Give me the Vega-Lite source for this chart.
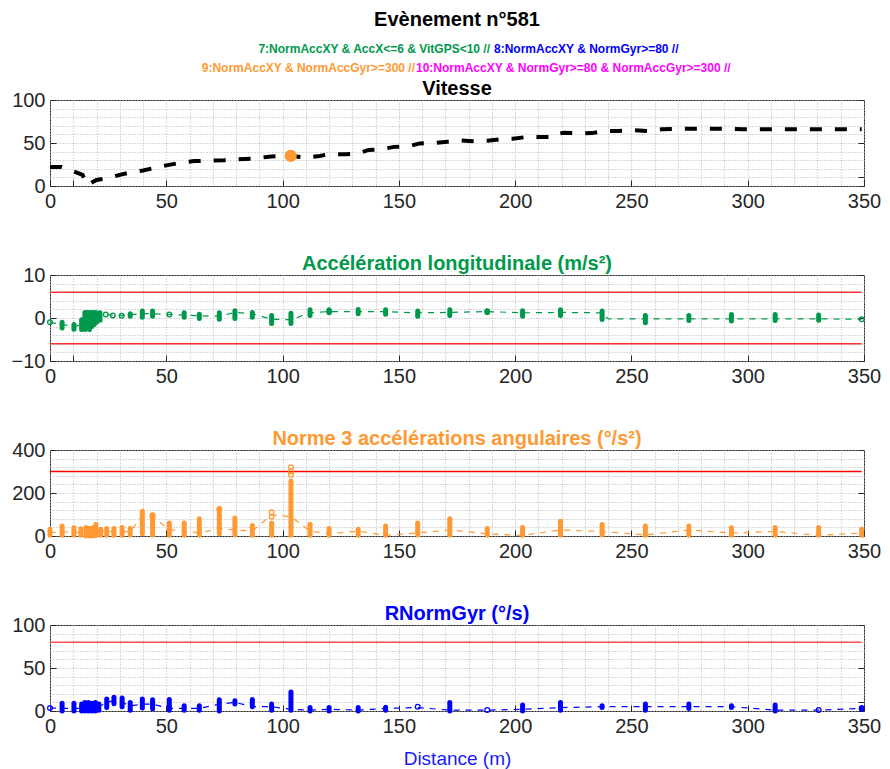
{
  "$schema": "https://vega.github.io/schema/vega-lite/v6.json",
  "background": "white",
  "padding": {"top": 10, "left": 10, "right": 4, "bottom": 0},
  "config": {
    "font": "Liberation Sans",
    "view": {"stroke": "#262626", "strokeWidth": 1},
    "axis": {
      "labelFont": "Liberation Sans", "labelColor": "#262626", "labelFontSize": 20,
      "domain": false, "tickColor": "#262626", "tickSize": -6, "labelPadding": 11,
      "tickOpacity": {"condition": {"test": "datum.value % 50 === 0 || datum.value === -10 || datum.value === 10", "value": 1}, "value": 0},
      "gridColor": "#b4b4b4", "gridDash": [1, 2], "gridWidth": 1,
      "labelOverlap": false, "labelFlush": false, "titleFont": "Liberation Sans"
    },
    "title": {"font": "Liberation Sans", "fontWeight": "bold", "fontSize": 20, "offset": -9}
  },
  "datasets": {
    "vit": [
      {"x": 0, "v": 22}, {"x": 5, "v": 22}, {"x": 10, "v": 17}, {"x": 14, "v": 13}, {"x": 16, "v": 1}, {"x": 20, "v": 7}, {"x": 25, "v": 9},
      {"x": 30, "v": 13}, {"x": 35, "v": 16}, {"x": 40, "v": 18}, {"x": 45, "v": 21}, {"x": 50, "v": 24}, {"x": 56, "v": 27}, {"x": 62, "v": 29},
      {"x": 69, "v": 29.5}, {"x": 75, "v": 30}, {"x": 80, "v": 31}, {"x": 88, "v": 32}, {"x": 94, "v": 34}, {"x": 99, "v": 35}, {"x": 104, "v": 35},
      {"x": 110, "v": 33}, {"x": 116, "v": 35}, {"x": 120, "v": 37}, {"x": 127, "v": 37}, {"x": 132, "v": 37.5}, {"x": 137, "v": 42}, {"x": 142, "v": 42.5},
      {"x": 148, "v": 45.5}, {"x": 154, "v": 46}, {"x": 159, "v": 49.5}, {"x": 165, "v": 50}, {"x": 171, "v": 51.5}, {"x": 176, "v": 53}, {"x": 183, "v": 52},
      {"x": 188, "v": 52.5}, {"x": 194, "v": 54.5}, {"x": 199, "v": 55}, {"x": 205, "v": 57}, {"x": 217, "v": 57}, {"x": 219, "v": 61}, {"x": 221, "v": 62},
      {"x": 228, "v": 61}, {"x": 233, "v": 61.5}, {"x": 239, "v": 64}, {"x": 244, "v": 64}, {"x": 251, "v": 65}, {"x": 257, "v": 64}, {"x": 263, "v": 66},
      {"x": 274, "v": 66.6}, {"x": 292, "v": 66.5}, {"x": 298, "v": 66}, {"x": 349, "v": 66}
    ],
    "vit_evt": [{"x": 103.5, "v": 35}],
    "acc_cl": [
      {"x": 5.2, "lo": -2.3, "hi": -1}, {"x": 10.3, "lo": -2.6, "hi": -1.5}, {"x": 13.6, "lo": -2.7, "hi": -0.4}, {"x": 15, "lo": -2.7, "hi": 1.3},
      {"x": 16, "lo": -2.5, "hi": 1.3}, {"x": 17, "lo": -2.7, "hi": 1.3}, {"x": 18, "lo": -2, "hi": 1.3}, {"x": 19, "lo": -1.5, "hi": 1.3},
      {"x": 20, "lo": -1, "hi": 1.2}, {"x": 21.5, "lo": -0.5, "hi": 1.2}, {"x": 34.5, "lo": 0.4, "hi": 1.0}, {"x": 39.7, "lo": 0.2, "hi": 1.6},
      {"x": 44.1, "lo": 0.4, "hi": 1.6}, {"x": 57.7, "lo": 0.2, "hi": 1.2}, {"x": 64.2, "lo": -0.1, "hi": 0.9}, {"x": 72.8, "lo": -0.3, "hi": 1.2},
      {"x": 79.5, "lo": -0.1, "hi": 1.7}, {"x": 87, "lo": 0.2, "hi": 1.3}, {"x": 95.3, "lo": -1.3, "hi": 0.6}, {"x": 103.6, "lo": -1.3, "hi": 1.1},
      {"x": 111.8, "lo": 0.6, "hi": 1.9}, {"x": 120, "lo": 1.2, "hi": 1.9}, {"x": 132.5, "lo": 1.0, "hi": 2.0}, {"x": 144.3, "lo": 0.9, "hi": 1.9},
      {"x": 158.1, "lo": 0.4, "hi": 1.6}, {"x": 171.9, "lo": 0.6, "hi": 1.9}, {"x": 188, "lo": 1.2, "hi": 1.7}, {"x": 203.2, "lo": 0.4, "hi": 1.7},
      {"x": 219.5, "lo": 0.6, "hi": 1.9}, {"x": 237.4, "lo": -0.35, "hi": 1.6}, {"x": 256, "lo": -1.1, "hi": 0.6}, {"x": 274.7, "lo": -0.6, "hi": 0.6},
      {"x": 293, "lo": -0.7, "hi": 0.8}, {"x": 311.8, "lo": -0.6, "hi": 0.8}, {"x": 330.5, "lo": -0.5, "hi": 0.7}
    ],
    "acc_o": [
      {"x": 0, "y": -1}, {"x": 24, "y": 0.8}, {"x": 27, "y": 0.6}, {"x": 30.8, "y": 0.5}, {"x": 51.3, "y": 0.8}, {"x": 120, "y": 1.5}, {"x": 188, "y": 1.5}, {"x": 349, "y": -0.3}
    ],
    "acc_line": [
      {"x": 0, "y": -1}, {"x": 5.2, "y": -1.5}, {"x": 10.3, "y": -2}, {"x": 13.6, "y": -1.5}, {"x": 16, "y": -0.5}, {"x": 20, "y": 0.5}, {"x": 24, "y": 0.8},
      {"x": 27, "y": 0.7}, {"x": 30.8, "y": 0.5}, {"x": 34.5, "y": 0.8}, {"x": 39.7, "y": 1}, {"x": 44.1, "y": 1}, {"x": 51.3, "y": 0.8}, {"x": 57.7, "y": 0.7},
      {"x": 64.2, "y": 0.5}, {"x": 72.8, "y": 0.4}, {"x": 79.5, "y": 1.3}, {"x": 87, "y": 1}, {"x": 95.3, "y": -0.3}, {"x": 103.6, "y": -0.4}, {"x": 111.8, "y": 1.2},
      {"x": 120, "y": 1.5}, {"x": 132.5, "y": 1.5}, {"x": 144.3, "y": 1.5}, {"x": 158.1, "y": 1.2}, {"x": 171.9, "y": 1.3}, {"x": 188, "y": 1.5}, {"x": 203.2, "y": 1.2},
      {"x": 219.5, "y": 1.3}, {"x": 237.4, "y": 1.2}, {"x": 240, "y": -0.2}, {"x": 256, "y": -0.2}, {"x": 274.7, "y": -0.2}, {"x": 293, "y": -0.2},
      {"x": 311.8, "y": -0.2}, {"x": 330.5, "y": -0.2}, {"x": 349, "y": -0.3}
    ],
    "acc_thr": [{"x0": 0, "x1": 349, "y": 6}, {"x0": 0, "x1": 349, "y": -6}],
    "ang_cl": [
      {"x": 0, "lo": 3, "hi": 31}, {"x": 5.2, "lo": 3, "hi": 46}, {"x": 10.3, "lo": 3, "hi": 38}, {"x": 13.3, "lo": 3, "hi": 34}, {"x": 15.5, "lo": 0, "hi": 40},
      {"x": 17, "lo": 0, "hi": 36}, {"x": 18.5, "lo": 0, "hi": 38}, {"x": 19.7, "lo": 2, "hi": 54}, {"x": 21.8, "lo": 3, "hi": 31}, {"x": 24.4, "lo": 3, "hi": 35},
      {"x": 27.5, "lo": 3, "hi": 35}, {"x": 31, "lo": 3, "hi": 40}, {"x": 34.5, "lo": 5, "hi": 35}, {"x": 39.7, "lo": 10, "hi": 115}, {"x": 44.1, "lo": 5, "hi": 97},
      {"x": 51.3, "lo": 3, "hi": 61}, {"x": 57.7, "lo": 3, "hi": 61}, {"x": 64.2, "lo": 3, "hi": 80}, {"x": 72.8, "lo": 10, "hi": 126}, {"x": 79.5, "lo": 5, "hi": 84},
      {"x": 87, "lo": 3, "hi": 49}, {"x": 95.3, "lo": 3, "hi": 60}, {"x": 103.6, "lo": 3, "hi": 256}, {"x": 111.8, "lo": 3, "hi": 55}, {"x": 120, "lo": 3, "hi": 35},
      {"x": 132.5, "lo": 3, "hi": 31}, {"x": 144.3, "lo": 3, "hi": 46}, {"x": 158.1, "lo": 5, "hi": 61}, {"x": 171.9, "lo": 5, "hi": 80}, {"x": 188, "lo": 3, "hi": 35},
      {"x": 203.2, "lo": 3, "hi": 40}, {"x": 219.5, "lo": 5, "hi": 69}, {"x": 237.4, "lo": 5, "hi": 54}, {"x": 256, "lo": 3, "hi": 46}, {"x": 274.7, "lo": 3, "hi": 46},
      {"x": 293, "lo": 3, "hi": 38}, {"x": 311.8, "lo": 3, "hi": 40}, {"x": 330.5, "lo": 3, "hi": 40}, {"x": 349, "lo": 3, "hi": 31}
    ],
    "ang_o": [
      {"x": 44.1, "y": 90}, {"x": 44.1, "y": 97}, {"x": 95.3, "y": 110}, {"x": 95.3, "y": 90}, {"x": 103.6, "y": 285}, {"x": 103.6, "y": 300},
      {"x": 103.6, "y": 320}, {"x": 72.8, "y": 126}
    ],
    "ang_line": [
      {"x": 0, "y": 15}, {"x": 5.2, "y": 20}, {"x": 10.3, "y": 15}, {"x": 15, "y": 20}, {"x": 20, "y": 25}, {"x": 25, "y": 20}, {"x": 31, "y": 20},
      {"x": 34.5, "y": 20}, {"x": 39.7, "y": 95}, {"x": 44.1, "y": 90}, {"x": 51.3, "y": 30}, {"x": 57.7, "y": 23}, {"x": 64.2, "y": 14}, {"x": 72.8, "y": 35},
      {"x": 79.5, "y": 28}, {"x": 87, "y": 23}, {"x": 95.3, "y": 98}, {"x": 103.6, "y": 90}, {"x": 111.8, "y": 23}, {"x": 120, "y": 10}, {"x": 132.5, "y": 23},
      {"x": 144.3, "y": 3}, {"x": 158.1, "y": 14}, {"x": 171.9, "y": 28}, {"x": 188, "y": 10}, {"x": 203.2, "y": 3}, {"x": 219.5, "y": 28}, {"x": 237.4, "y": 21},
      {"x": 256, "y": 5}, {"x": 274.7, "y": 28}, {"x": 293, "y": 14}, {"x": 311.8, "y": 21}, {"x": 330.5, "y": 3}, {"x": 349, "y": 14}
    ],
    "ang_thr": [{"x0": 0, "x1": 349, "y": 300}],
    "gyr_cl": [
      {"x": 5.2, "lo": 0, "hi": 9}, {"x": 10.3, "lo": 0, "hi": 9}, {"x": 13.6, "lo": 0, "hi": 8}, {"x": 15, "lo": 0, "hi": 10}, {"x": 16.5, "lo": 0, "hi": 10},
      {"x": 18, "lo": 0, "hi": 9}, {"x": 19.5, "lo": 0, "hi": 10}, {"x": 21, "lo": 1, "hi": 8}, {"x": 24.4, "lo": 4, "hi": 14}, {"x": 27.5, "lo": 8.5, "hi": 16},
      {"x": 31, "lo": 5, "hi": 15}, {"x": 34.5, "lo": 1, "hi": 10}, {"x": 39.7, "lo": 3.5, "hi": 14}, {"x": 44.1, "lo": 2.7, "hi": 13}, {"x": 51.3, "lo": 1, "hi": 13.5},
      {"x": 57.7, "lo": 1, "hi": 6}, {"x": 64.2, "lo": 1, "hi": 6}, {"x": 72.8, "lo": 0, "hi": 13}, {"x": 79.5, "lo": 8, "hi": 12}, {"x": 87, "lo": 5, "hi": 13.5},
      {"x": 95.3, "lo": 1, "hi": 8}, {"x": 103.6, "lo": 1, "hi": 22}, {"x": 111.8, "lo": 0, "hi": 4}, {"x": 120, "lo": 0, "hi": 4}, {"x": 132.5, "lo": 0, "hi": 4},
      {"x": 144.3, "lo": 1, "hi": 4.5}, {"x": 171.9, "lo": 0, "hi": 10}, {"x": 203.2, "lo": 0, "hi": 7}, {"x": 219.5, "lo": 1, "hi": 10}, {"x": 237.4, "lo": 4, "hi": 6},
      {"x": 256, "lo": 1, "hi": 8}, {"x": 274.7, "lo": 3, "hi": 8}, {"x": 293, "lo": 4, "hi": 6}, {"x": 311.8, "lo": 0, "hi": 7}, {"x": 349, "lo": 2, "hi": 4}
    ],
    "gyr_o": [{"x": 0, "y": 3.5}, {"x": 158.1, "y": 5}, {"x": 188, "y": 1.2}, {"x": 330.5, "y": 1.2}, {"x": 349, "y": 3}],
    "gyr_line": [
      {"x": 0, "y": 3.5}, {"x": 5.2, "y": 3}, {"x": 10.3, "y": 3}, {"x": 15, "y": 3}, {"x": 21, "y": 5}, {"x": 24.4, "y": 10}, {"x": 27.5, "y": 12},
      {"x": 31, "y": 10}, {"x": 34.5, "y": 6}, {"x": 39.7, "y": 8}, {"x": 44.1, "y": 8}, {"x": 51.3, "y": 3}, {"x": 57.7, "y": 3}, {"x": 64.2, "y": 3},
      {"x": 72.8, "y": 8}, {"x": 79.5, "y": 10}, {"x": 87, "y": 5}, {"x": 95.3, "y": 5}, {"x": 103.6, "y": 2}, {"x": 111.8, "y": 1}, {"x": 120, "y": 2},
      {"x": 132.5, "y": 1}, {"x": 144.3, "y": 3}, {"x": 158.1, "y": 4}, {"x": 171.9, "y": 1}, {"x": 188, "y": 1}, {"x": 203.2, "y": 2}, {"x": 219.5, "y": 4},
      {"x": 237.4, "y": 5}, {"x": 256, "y": 5}, {"x": 274.7, "y": 5}, {"x": 293, "y": 5}, {"x": 311.8, "y": 1}, {"x": 330.5, "y": 1}, {"x": 349, "y": 3}
    ],
    "gyr_thr": [{"x0": 0, "x1": 349, "y": 80}]
  },
  "spacing": 2,
  "vconcat": [
    {
      "spacing": 5,
      "vconcat": [
        {"width": 814, "height": 1, "view": {"stroke": null}, "data": {"values": []}, "mark": "point",
         "title": {"text": "Evènement n°581", "fontSize": 20, "color": "#000000", "anchor": "middle", "frame": "group", "offset": 7}},
        {"spacing": 4, "hconcat": [
          {"width": 440, "height": 1, "view": {"stroke": null}, "data": {"values": []}, "mark": "point",
           "title": {"text": "7:NormAccXY & AccX<=6 & VitGPS<10 //", "fontSize": 12, "color": "#00994c", "anchor": "end", "frame": "group", "offset": 0}},
          {"width": 370, "height": 1, "view": {"stroke": null}, "data": {"values": []}, "mark": "point",
           "title": {"text": "8:NormAccXY & NormGyr>=80 //", "fontSize": 12, "color": "#0000ff", "anchor": "start", "frame": "group", "offset": 0}}
        ]},
        {"spacing": 1, "hconcat": [
          {"width": 365, "height": 1, "view": {"stroke": null}, "data": {"values": []}, "mark": "point",
           "title": {"text": "9:NormAccXY & NormAccGyr>=300 //", "fontSize": 12, "color": "#ff9933", "anchor": "end", "frame": "group", "offset": 0}},
          {"width": 448, "height": 1, "view": {"stroke": null}, "data": {"values": []}, "mark": "point",
           "title": {"text": "10:NormAccXY & NormGyr>=80 & NormAccGyr>=300 //", "fontSize": 12, "color": "#ff00ff", "anchor": "start", "frame": "group", "offset": 0}}
        ]}
      ]
    },
    {
      "spacing": 41,
      "vconcat": [
        {
          "width": 814, "height": 86,
          "title": {"text": "Vitesse", "color": "#000000"},
          "resolve": {"axis": {"y": "independent"}},
          "encoding": {
            "x": {"field": "x", "type": "quantitative", "scale": {"domain": [0, 350], "nice": false},
                  "axis": {"title": null, "labelOverlap": false, "values": [0,10,20,30,40,50,60,70,80,90,100,110,120,130,140,150,160,170,180,190,200,210,220,230,240,250,260,270,280,290,300,310,320,330,340,350],
                           "labelExpr": "datum.value % 50 === 0 ? datum.label : ''"}}
          },
          "layer": [
            {"data": {"name": "vit"}, "mark": {"type": "line", "color": "#000000", "strokeWidth": 4, "strokeDash": [12, 13]},
             "encoding": {"y": {"field": "v", "type": "quantitative", "scale": {"domain": [0, 100], "nice": false},
                                "axis": {"title": null, "labelOverlap": false, "values": [0, 50, 100], "grid": false}}}},
            {"data": {"name": "vit_evt"}, "mark": {"type": "point", "filled": true, "color": "#ff9933", "size": 150, "opacity": 1},
             "encoding": {"y": {"field": "v", "type": "quantitative",
                                "axis": {"title": null, "orient": "right", "labels": false, "grid": true, "values": [0,10,20,30,40,50,60,70,80,90,100]}}}}
          ]
        },
        {
          "width": 814, "height": 86,
          "title": {"text": "Accélération longitudinale (m/s²)", "color": "#00994c"},
          "resolve": {"axis": {"y": "independent"}},
          "encoding": {
            "x": {"field": "x", "type": "quantitative", "scale": {"domain": [0, 350], "nice": false},
                  "axis": {"title": null, "labelOverlap": false, "values": [0,10,20,30,40,50,60,70,80,90,100,110,120,130,140,150,160,170,180,190,200,210,220,230,240,250,260,270,280,290,300,310,320,330,340,350],
                           "labelExpr": "datum.value % 50 === 0 ? datum.label : ''"}}
          },
          "layer": [
            {"data": {"name": "acc_thr"}, "mark": {"type": "rule", "color": "#ff3333", "strokeWidth": 1.5},
             "encoding": {"x": {"field": "x0", "type": "quantitative"}, "x2": {"field": "x1"},
                          "y": {"field": "y", "type": "quantitative", "scale": {"domain": [-10, 10], "nice": false},
                                "axis": {"title": null, "labelOverlap": false, "values": [-10, 0, 10], "grid": false}}}},
            {"data": {"name": "acc_line"}, "mark": {"type": "line", "color": "#00994c", "strokeWidth": 1.2, "strokeDash": [6, 6]},
             "encoding": {"y": {"field": "y", "type": "quantitative",
                                "axis": {"title": null, "orient": "right", "labels": false, "grid": true, "values": [-10,-8,-6,-4,-2,0,2,4,6,8,10]}}}},
            {"data": {"name": "acc_cl"}, "mark": {"type": "rule", "color": "#00994c", "strokeWidth": 5, "strokeCap": "round"},
             "encoding": {"y": {"field": "lo", "type": "quantitative", "axis": null}, "y2": {"field": "hi"}}},
            {"data": {"name": "acc_o"}, "mark": {"type": "point", "filled": false, "color": "#00994c", "size": 22, "strokeWidth": 1.3, "opacity": 1},
             "encoding": {"y": {"field": "y", "type": "quantitative", "axis": null}}}
          ]
        },
        {
          "width": 814, "height": 86,
          "title": {"text": "Norme 3 accélérations angulaires (°/s²)", "color": "#ff9933"},
          "resolve": {"axis": {"y": "independent"}},
          "encoding": {
            "x": {"field": "x", "type": "quantitative", "scale": {"domain": [0, 350], "nice": false},
                  "axis": {"title": null, "labelOverlap": false, "values": [0,10,20,30,40,50,60,70,80,90,100,110,120,130,140,150,160,170,180,190,200,210,220,230,240,250,260,270,280,290,300,310,320,330,340,350],
                           "labelExpr": "datum.value % 50 === 0 ? datum.label : ''"}}
          },
          "layer": [
            {"data": {"name": "ang_thr"}, "mark": {"type": "rule", "color": "#ff0000", "strokeWidth": 1.5},
             "encoding": {"x": {"field": "x0", "type": "quantitative"}, "x2": {"field": "x1"},
                          "y": {"field": "y", "type": "quantitative", "scale": {"domain": [0, 400], "nice": false},
                                "axis": {"title": null, "labelOverlap": false, "values": [0, 200, 400], "grid": false}}}},
            {"data": {"name": "ang_line"}, "mark": {"type": "line", "color": "#ff9933", "strokeWidth": 1.2, "strokeDash": [6, 6]},
             "encoding": {"y": {"field": "y", "type": "quantitative",
                                "axis": {"title": null, "orient": "right", "labels": false, "grid": true, "values": [0,40,80,120,160,200,240,280,320,360,400],
                                         "tickOpacity": {"condition": {"test": "datum.value % 200 === 0", "value": 1}, "value": 0}}}}},
            {"data": {"name": "ang_cl"}, "mark": {"type": "rule", "color": "#ff9933", "strokeWidth": 5, "strokeCap": "round"},
             "encoding": {"y": {"field": "lo", "type": "quantitative", "axis": null}, "y2": {"field": "hi"}}},
            {"data": {"name": "ang_o"}, "mark": {"type": "point", "filled": false, "color": "#ff9933", "size": 22, "strokeWidth": 1.3, "opacity": 1},
             "encoding": {"y": {"field": "y", "type": "quantitative", "axis": null}}}
          ]
        },
        {
          "width": 814, "height": 86,
          "title": {"text": "RNormGyr (°/s)", "color": "#0000ff"},
          "resolve": {"axis": {"y": "independent"}},
          "encoding": {
            "x": {"field": "x", "type": "quantitative", "scale": {"domain": [0, 350], "nice": false},
                  "axis": {"title": "Distance (m)", "titleColor": "#1a1aff", "titleFontSize": 19, "titleFontWeight": "normal", "titlePadding": 13, "labelOverlap": false,
                           "values": [0,10,20,30,40,50,60,70,80,90,100,110,120,130,140,150,160,170,180,190,200,210,220,230,240,250,260,270,280,290,300,310,320,330,340,350],
                           "labelExpr": "datum.value % 50 === 0 ? datum.label : ''"}}
          },
          "layer": [
            {"data": {"name": "gyr_thr"}, "mark": {"type": "rule", "color": "#ff4d4d", "strokeWidth": 1.5},
             "encoding": {"x": {"field": "x0", "type": "quantitative"}, "x2": {"field": "x1"},
                          "y": {"field": "y", "type": "quantitative", "scale": {"domain": [0, 100], "nice": false},
                                "axis": {"title": null, "labelOverlap": false, "values": [0, 50, 100], "grid": false}}}},
            {"data": {"name": "gyr_line"}, "mark": {"type": "line", "color": "#0000ff", "strokeWidth": 1.2, "strokeDash": [6, 6]},
             "encoding": {"y": {"field": "y", "type": "quantitative",
                                "axis": {"title": null, "orient": "right", "labels": false, "grid": true, "values": [0,10,20,30,40,50,60,70,80,90,100]}}}},
            {"data": {"name": "gyr_cl"}, "mark": {"type": "rule", "color": "#0000ff", "strokeWidth": 5, "strokeCap": "round"},
             "encoding": {"y": {"field": "lo", "type": "quantitative", "axis": null}, "y2": {"field": "hi"}}},
            {"data": {"name": "gyr_o"}, "mark": {"type": "point", "filled": false, "color": "#0000ff", "size": 22, "strokeWidth": 1.3, "opacity": 1},
             "encoding": {"y": {"field": "y", "type": "quantitative", "axis": null}}}
          ]
        }
      ]
    }
  ]
}
